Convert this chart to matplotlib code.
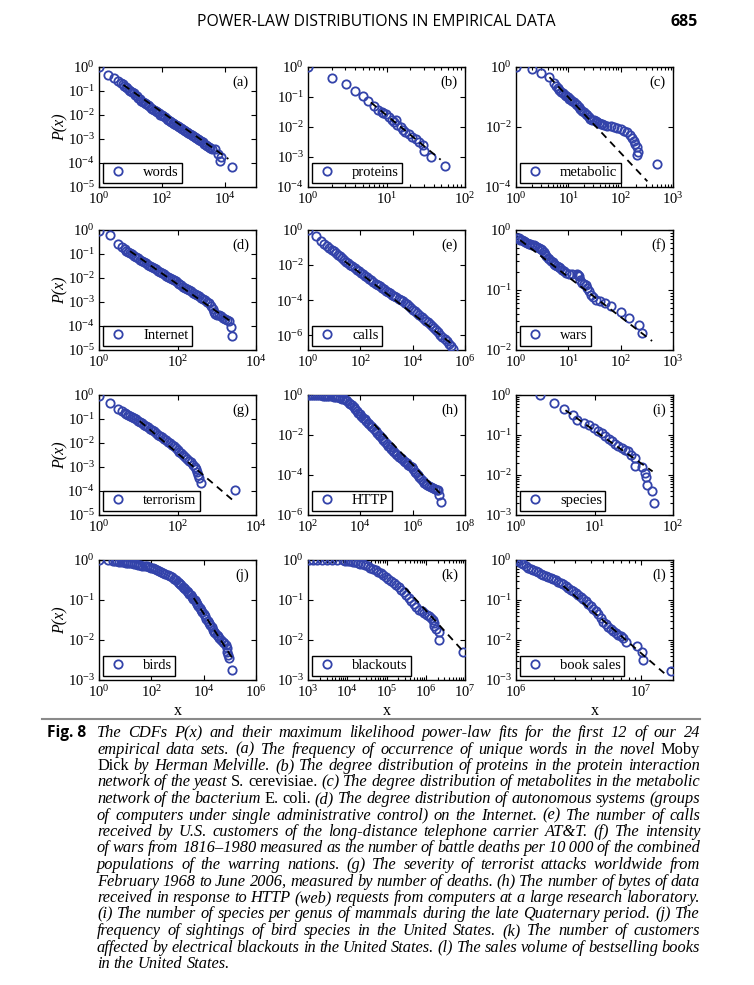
import numpy as np
import matplotlib
matplotlib.use("Agg")
import matplotlib.pyplot as plt
from matplotlib.ticker import FixedLocator, LogLocator, NullFormatter, NullLocator, LogFormatterMathtext
from matplotlib.lines import Line2D

plt.rcParams['font.family'] = ['Liberation Serif', 'DejaVu Serif']
plt.rcParams['mathtext.fontset'] = 'stix'

# Data, stored as (log10 x, log10 P(x)) pairs
words = [(0, 0), (0.30, -0.33), (0.48, -0.47), (0.60, -0.58), (0.70, -0.65),
         (0.75, -0.72), (0.80, -0.78), (0.85, -0.83), (0.90, -0.88), (0.95, -0.94), (1.00, -0.99), (1.05, -1.04),
         (1.10, -1.10), (1.15, -1.16), (1.20, -1.22), (1.25, -1.28), (1.30, -1.34), (1.35, -1.40), (1.40, -1.45),
         (1.45, -1.50), (1.50, -1.55), (1.55, -1.60), (1.60, -1.64), (1.65, -1.69), (1.70, -1.73), (1.75, -1.78),
         (1.80, -1.83), (1.85, -1.88), (1.90, -1.93), (1.95, -1.98), (2.00, -2.02), (2.05, -2.06), (2.10, -2.10),
         (2.15, -2.15), (2.20, -2.19), (2.25, -2.24), (2.30, -2.28), (2.35, -2.33), (2.40, -2.37), (2.45, -2.42),
         (2.50, -2.46), (2.55, -2.51), (2.60, -2.55), (2.65, -2.59), (2.70, -2.63), (2.75, -2.67), (2.80, -2.71),
         (2.85, -2.75), (2.90, -2.79), (2.95, -2.84), (3.00, -2.88), (3.05, -2.93), (3.10, -2.97), (3.15, -3.01),
         (3.20, -3.05), (3.25, -3.10), (3.30, -3.14), (3.35, -3.20), (3.40, -3.25), (3.45, -3.30), (3.50, -3.35),
         (3.55, -3.39), (3.60, -3.42), (3.69, -3.42), (3.80, -3.63), (3.90, -3.76), (3.85, -3.90), (4.23, -4.18)]
words_fit = [(0.78, -0.75), (4.12, -3.83)]

proteins = [(0, 0), (0.30, -0.35), (0.48, -0.58), (0.60, -0.81), (0.70, -0.98), (0.77, -1.12), (0.84, -1.29),
            (0.89, -1.44), (0.94, -1.50), (0.96, -1.53), (0.99, -1.58), (1.03, -1.67), (1.07, -1.75), (1.10, -1.83),
            (1.12, -1.78), (1.14, -1.92), (1.18, -2.01), (1.21, -2.09), (1.24, -2.15), (1.29, -2.24), (1.33, -2.32),
            (1.37, -2.40), (1.41, -2.51), (1.46, -2.61), (1.48, -2.81), (1.57, -3.00), (1.74, -3.31)]
proteins_fit = [(0.80, -1.18), (1.69, -3.09)]

metabolic = [(0, 0), (0.31, -0.06), (0.48, -0.20), (0.63, -0.32), (0.72, -0.52), (0.76, -0.62), (0.80, -0.71),
             (0.83, -0.77), (0.86, -0.82), (0.90, -0.88), (0.93, -0.94), (0.96, -0.98), (0.99, -1.01), (1.02, -1.05),
             (1.04, -1.08), (1.07, -1.12), (1.10, -1.16), (1.14, -1.22), (1.17, -1.27), (1.20, -1.33), (1.23, -1.39),
             (1.27, -1.45), (1.30, -1.50), (1.33, -1.56), (1.36, -1.61), (1.39, -1.67), (1.42, -1.72), (1.46, -1.75),
             (1.49, -1.78), (1.52, -1.81), (1.55, -1.84), (1.59, -1.87), (1.62, -1.89), (1.65, -1.91), (1.68, -1.93),
             (1.74, -1.95), (1.81, -1.98), (1.87, -2.01), (1.93, -2.03), (2.00, -2.06), (2.06, -2.12), (2.13, -2.18),
             (2.18, -2.25), (2.22, -2.35), (2.25, -2.46), (2.28, -2.57), (2.32, -2.68), (2.33, -2.82), (2.32, -2.93),
             (2.69, -3.22)]
metabolic_fit = [(0.64, -0.34), (2.51, -3.81)]

internet = [(0, -0.05), (0.29, -0.21), (0.49, -0.60), (0.58, -0.70), (0.66, -0.81), (0.70, -0.86),
            (0.75, -0.90), (0.80, -0.96), (0.85, -1.01), (0.90, -1.07), (0.95, -1.12), (1.00, -1.18), (1.05, -1.24),
            (1.10, -1.29), (1.15, -1.34), (1.20, -1.39), (1.25, -1.44), (1.30, -1.50), (1.35, -1.54), (1.40, -1.59),
            (1.45, -1.64), (1.50, -1.70), (1.55, -1.74), (1.60, -1.80), (1.65, -1.85), (1.70, -1.90), (1.75, -1.95),
            (1.80, -2.00), (1.85, -2.04), (1.90, -2.09), (1.95, -2.14), (2.00, -2.20), (2.05, -2.26), (2.10, -2.31),
            (2.15, -2.37), (2.20, -2.42), (2.25, -2.47), (2.30, -2.52), (2.35, -2.56), (2.40, -2.61), (2.45, -2.66),
            (2.50, -2.72), (2.55, -2.77), (2.60, -2.82), (2.65, -2.88), (2.70, -2.93), (2.75, -2.99), (2.80, -3.06),
            (2.85, -3.16), (2.90, -3.28), (2.93, -3.40), (2.96, -3.50), (3.00, -3.54), (3.05, -3.56), (3.10, -3.60),
            (3.15, -3.66), (3.20, -3.71), (3.25, -3.75), (3.30, -3.80), (3.36, -4.06), (3.40, -4.40)]
internet_fit = [(0.79, -0.88), (3.36, -3.81)]

calls = [(0, 0), (0.29, -0.35), (0.48, -0.60), (0.61, -0.79),
         (0.74, -0.92), (0.82, -1.02), (0.90, -1.12), (0.98, -1.22), (1.06, -1.32), (1.14, -1.42), (1.22, -1.51),
         (1.30, -1.61), (1.38, -1.71), (1.46, -1.81), (1.54, -1.90), (1.62, -1.99), (1.70, -2.08), (1.78, -2.17),
         (1.86, -2.26), (1.94, -2.35), (2.02, -2.44), (2.10, -2.53), (2.18, -2.62), (2.26, -2.70), (2.34, -2.79),
         (2.42, -2.88), (2.50, -2.97), (2.58, -3.06), (2.66, -3.14), (2.74, -3.21), (2.82, -3.29), (2.90, -3.37),
         (2.98, -3.46), (3.06, -3.54), (3.14, -3.62), (3.22, -3.69), (3.30, -3.77), (3.38, -3.85), (3.46, -3.93),
         (3.54, -4.00), (3.62, -4.08), (3.70, -4.16), (3.78, -4.25), (3.86, -4.33), (3.94, -4.43), (4.02, -4.54),
         (4.10, -4.64), (4.18, -4.75), (4.26, -4.86), (4.34, -4.97), (4.42, -5.07), (4.50, -5.17), (4.58, -5.27),
         (4.66, -5.38), (4.74, -5.50), (4.82, -5.61), (4.90, -5.73), (4.98, -5.85), (5.06, -5.97), (5.14, -6.09),
         (5.22, -6.23), (5.30, -6.36), (5.38, -6.49), (5.46, -6.63), (5.55, -6.79)]
calls_fit = [(1.40, -1.78), (5.60, -6.62)]

wars = [(0.02, -0.13), (0.05, -0.14), (0.08, -0.16), (0.12, -0.17), (0.15, -0.18), (0.18, -0.20), (0.21, -0.21),
        (0.24, -0.23), (0.27, -0.24), (0.30, -0.25), (0.34, -0.25), (0.37, -0.27), (0.40, -0.28), (0.44, -0.30),
        (0.47, -0.32), (0.50, -0.34), (0.53, -0.36), (0.56, -0.40), (0.58, -0.44), (0.61, -0.47), (0.63, -0.49),
        (0.67, -0.52), (0.70, -0.54), (0.72, -0.56), (0.75, -0.58), (0.78, -0.60), (0.82, -0.62), (0.85, -0.64),
        (0.88, -0.66), (0.91, -0.68), (0.96, -0.71), (1.01, -0.73), (1.07, -0.74), (1.16, -0.73), (1.18, -0.75),
        (1.20, -0.77), (1.23, -0.83), (1.26, -0.88), (1.30, -0.90), (1.33, -0.91), (1.36, -0.97), (1.39, -1.02),
        (1.44, -1.08), (1.48, -1.12), (1.52, -1.16), (1.60, -1.18), (1.71, -1.22), (1.81, -1.26), (2.00, -1.36),
        (2.16, -1.47), (2.35, -1.58), (2.41, -1.72)]
wars_fit = [(0.08, -0.17), (2.60, -1.85)]

terrorism = [(0, -0.04), (0.29, -0.35), (0.49, -0.57), (0.58, -0.66), (0.66, -0.74), (0.70, -0.78),
             (0.75, -0.82), (0.80, -0.86), (0.85, -0.91), (0.90, -0.97), (0.95, -1.02), (1.00, -1.08), (1.05, -1.14),
             (1.10, -1.18), (1.15, -1.23), (1.20, -1.28), (1.25, -1.34), (1.30, -1.40), (1.35, -1.46), (1.40, -1.52),
             (1.45, -1.59), (1.50, -1.65), (1.55, -1.71), (1.60, -1.77), (1.65, -1.83), (1.70, -1.89), (1.75, -1.96),
             (1.80, -2.02), (1.85, -2.08), (1.90, -2.14), (1.95, -2.22), (2.00, -2.29), (2.05, -2.36), (2.10, -2.43),
             (2.15, -2.51), (2.20, -2.58), (2.25, -2.65), (2.30, -2.73), (2.35, -2.81), (2.40, -2.90), (2.44, -2.99),
             (2.47, -3.09), (2.50, -3.22), (2.52, -3.34), (2.54, -3.46), (2.59, -3.67), (3.47, -3.95)]
terrorism_fit = [(1.04, -1.09), (3.40, -4.37)]

http = [(2.03, 0), (2.10, 0), (2.18, 0), (2.26, 0), (2.34, -0.01), (2.42, -0.02), (2.50, -0.02), (2.58, -0.03),
        (2.66, -0.04), (2.74, -0.04), (2.82, -0.05), (2.90, -0.06), (2.98, -0.08), (3.06, -0.09), (3.14, -0.12),
        (3.22, -0.15), (3.30, -0.18), (3.38, -0.22), (3.44, -0.27), (3.50, -0.32), (3.56, -0.38), (3.62, -0.45),
        (3.68, -0.52), (3.74, -0.61), (3.80, -0.70), (3.86, -0.80), (3.92, -0.88), (3.98, -0.97), (4.04, -1.05),
        (4.10, -1.14), (4.16, -1.22), (4.22, -1.31), (4.28, -1.39), (4.34, -1.47), (4.40, -1.55), (4.46, -1.62),
        (4.52, -1.70), (4.58, -1.80), (4.64, -1.90), (4.70, -1.98), (4.76, -2.07), (4.82, -2.17), (4.88, -2.27),
        (4.94, -2.36), (5.00, -2.45), (5.06, -2.53), (5.12, -2.61), (5.18, -2.70), (5.24, -2.78), (5.30, -2.86),
        (5.36, -2.94), (5.42, -3.01), (5.48, -3.08), (5.54, -3.14), (5.60, -3.21), (5.66, -3.28), (5.72, -3.35),
        (5.78, -3.42), (5.84, -3.48), (5.90, -3.55), (5.96, -3.62), (6.02, -3.72), (6.08, -3.83), (6.14, -3.91),
        (6.20, -3.99), (6.26, -4.08), (6.32, -4.18), (6.38, -4.28), (6.44, -4.38), (6.50, -4.46), (6.56, -4.51),
        (6.62, -4.56), (6.70, -4.60), (6.78, -4.66), (6.86, -4.71), (6.94, -4.75), (6.97, -4.77), (7.01, -4.99),
        (7.10, -5.33)]
http_fit = [(4.53, -1.47), (7.04, -4.91)]

species = [(0.30, -0.01), (0.49, -0.21), (0.61, -0.36), (0.72, -0.49), (0.78, -0.63), (0.87, -0.70), (0.93, -0.76),
           (0.99, -0.82), (1.04, -0.91), (1.09, -0.96), (1.13, -1.03), (1.18, -1.10), (1.22, -1.16), (1.26, -1.22),
           (1.30, -1.28), (1.35, -1.32), (1.39, -1.38), (1.43, -1.41), (1.47, -1.49), (1.51, -1.58), (1.51, -1.77),
           (1.60, -1.80), (1.64, -1.94), (1.65, -2.05), (1.67, -2.25), (1.73, -2.41), (1.76, -2.71)]
species_fit = [(0.63, -0.38), (1.74, -1.91)]

birds = [(0, 0), (0.35, -0.01), (0.54, -0.03), (0.62, -0.03), (0.70, -0.035), (0.78, -0.04), (0.86, -0.05),
         (0.94, -0.055), (1.02, -0.065), (1.10, -0.07), (1.18, -0.08), (1.26, -0.085), (1.34, -0.095),
         (1.42, -0.105), (1.50, -0.12), (1.58, -0.13), (1.66, -0.14), (1.74, -0.15), (1.82, -0.16), (1.90, -0.175),
         (1.98, -0.19), (2.06, -0.205), (2.14, -0.225), (2.22, -0.245), (2.30, -0.27), (2.38, -0.29),
         (2.46, -0.315), (2.54, -0.34), (2.62, -0.365), (2.70, -0.40), (2.78, -0.43), (2.86, -0.465), (2.94, -0.51),
         (3.00, -0.55), (3.05, -0.58), (3.10, -0.60), (3.15, -0.635), (3.20, -0.665), (3.25, -0.70), (3.30, -0.73),
         (3.35, -0.77), (3.40, -0.80), (3.45, -0.84), (3.50, -0.88), (3.55, -0.93), (3.60, -0.97), (3.65, -1.01),
         (3.70, -1.05), (3.75, -1.10), (3.80, -1.14), (3.85, -1.19), (3.90, -1.25), (3.95, -1.30), (4.00, -1.36),
         (4.05, -1.41), (4.10, -1.47), (4.15, -1.52), (4.20, -1.58), (4.25, -1.63), (4.30, -1.68), (4.35, -1.74),
         (4.40, -1.79), (4.45, -1.83), (4.50, -1.87), (4.55, -1.91), (4.60, -1.95), (4.66, -2.00), (4.72, -2.04),
         (4.78, -2.08), (4.85, -2.12), (4.88, -2.20), (4.91, -2.29), (4.94, -2.37), (4.97, -2.46), (5.10, -2.75)]
birds_fit = [(3.62, -0.95), (5.10, -2.46)]

blackouts = [(3.02, 0), (3.12, 0), (3.23, 0), (3.36, 0), (3.49, 0), (3.62, 0), (3.75, -0.01), (3.88, -0.01),
             (3.95, -0.02), (4.01, -0.03), (4.07, -0.035), (4.14, -0.04), (4.20, -0.055), (4.27, -0.07),
             (4.33, -0.09), (4.40, -0.11), (4.46, -0.13), (4.53, -0.16), (4.59, -0.19), (4.66, -0.22), (4.72, -0.25),
             (4.79, -0.29), (4.85, -0.33), (4.92, -0.38), (4.98, -0.42), (5.05, -0.47), (5.11, -0.52), (5.18, -0.57),
             (5.24, -0.62), (5.31, -0.68), (5.37, -0.74), (5.44, -0.80), (5.50, -0.87), (5.57, -0.95), (5.63, -1.03),
             (5.70, -1.11), (5.76, -1.18), (5.83, -1.24), (5.90, -1.28), (5.96, -1.32), (6.03, -1.37), (6.09, -1.41),
             (6.14, -1.45), (6.18, -1.49), (6.20, -1.58), (6.22, -1.66), (6.26, -1.72), (6.35, -1.80), (6.35, -1.99),
             (6.96, -2.30)]
blackouts_fit = [(5.48, -0.70), (6.96, -2.29)]

books = [(6.01, 0), (6.02, -0.03), (6.04, -0.07), (6.06, -0.11), (6.08, -0.15), (6.10, -0.19), (6.12, -0.22),
         (6.14, -0.25), (6.16, -0.28), (6.18, -0.31), (6.20, -0.34), (6.22, -0.37), (6.24, -0.40), (6.26, -0.43),
         (6.28, -0.46), (6.30, -0.48), (6.32, -0.51), (6.34, -0.54), (6.36, -0.57), (6.38, -0.61), (6.40, -0.65),
         (6.42, -0.70), (6.44, -0.74), (6.46, -0.78), (6.48, -0.82), (6.50, -0.87), (6.52, -0.93), (6.54, -0.98),
         (6.56, -1.03), (6.58, -1.09), (6.60, -1.16), (6.62, -1.22), (6.64, -1.28), (6.66, -1.36), (6.68, -1.45),
         (6.70, -1.54), (6.72, -1.60), (6.74, -1.67), (6.76, -1.72), (6.78, -1.77), (6.80, -1.82), (6.82, -1.87),
         (6.84, -1.91), (6.86, -1.96), (6.88, -2.05), (6.97, -2.16), (7.01, -2.29), (7.02, -2.50), (7.24, -2.77)]
books_fit = [(6.38, -0.65), (7.19, -2.83)]

names = ['words', 'proteins', 'metabolic', 'Internet', 'calls', 'wars',
         'terrorism', 'HTTP', 'species', 'birds', 'blackouts', 'book sales']
letters = ['(a)', '(b)', '(c)', '(d)', '(e)', '(f)', '(g)', '(h)', '(i)', '(j)', '(k)', '(l)']
series = [words, proteins, metabolic, internet, calls, wars, terrorism, http, species, birds, blackouts, books]
fits = [words_fit, proteins_fit, metabolic_fit, internet_fit, calls_fit, wars_fit,
        terrorism_fit, http_fit, species_fit, birds_fit, blackouts_fit, books_fit]

# axis ranges / ticks, as decade exponents
xlims = [(0, 5), (0, 2), (0, 3), (0, 4), (0, 6), (0, 3), (0, 4), (2, 8), (0, 2), (0, 6), (3, 7), (6, 7.26)]
ylims = [(-5, 0), (-4, 0), (-4, 0), (-5, 0), (-6.85, 0), (-2, 0), (-5, 0), (-6, 0), (-3, 0), (-3, 0), (-3, 0), (-3, 0)]
xticks = [[0, 2, 4], [0, 1, 2], [0, 1, 2, 3], [0, 2, 4], [0, 2, 4, 6], [0, 1, 2, 3], [0, 2, 4], [2, 4, 6, 8],
          [0, 1, 2], [0, 2, 4, 6], [3, 4, 5, 6, 7], [6, 7]]
yticks = [[0, -1, -2, -3, -4, -5], [0, -1, -2, -3, -4], [0, -2, -4], [0, -1, -2, -3, -4, -5], [0, -2, -4, -6],
          [0, -1, -2], [0, -1, -2, -3, -4, -5], [0, -2, -4, -6], [0, -1, -2, -3], [0, -1, -2, -3],
          [0, -1, -2, -3], [0, -1, -2, -3]]
x_minor = [False, True, True, False, False, False, False, False, False, False, True, True]
y_minor = [False, False, False, False, False, True, False, False, True, False, False, True]

caption_lines = [
    "The CDFs P(x) and their maximum likelihood power-law fits for the first 12 of our 24",
    "empirical data sets. (a) The frequency of occurrence of unique words in the novel Moby",
    "Dick by Herman Melville. (b) The degree distribution of proteins in the protein interaction",
    "network of the yeast S. cerevisiae. (c) The degree distribution of metabolites in the metabolic",
    "network of the bacterium E. coli. (d) The degree distribution of autonomous systems (groups",
    "of computers under single administrative control) on the Internet. (e) The number of calls",
    "received by U.S. customers of the long-distance telephone carrier AT&T. (f) The intensity",
    "of wars from 1816\u20131980 measured as the number of battle deaths per 10~000 of the combined",
    "populations of the warring nations. (g) The severity of terrorist attacks worldwide from",
    "February 1968 to June 2006, measured by number of deaths. (h) The number of bytes of data",
    "received in response to HTTP (web) requests from computers at a large research laboratory.",
    "(i) The number of species per genus of mammals during the late Quaternary period. (j) The",
    "frequency of sightings of bird species in the United States. (k) The number of customers",
    "affected by electrical blackouts in the United States. (l) The sales volume of bestselling books",
    "in the United States.",
]
roman_words = {'Moby', 'Dick', 'S.', 'cerevisiae.', 'E.', 'coli.'}

W, H = 754, 985
fig = plt.figure(figsize=(W / 100, H / 100), dpi=100)

col_left = [99, 308, 516]
row_top = [67, 230, 395, 560]
ax_w, ax_h = 157, 120
blue = '#3343aa'

for k in range(12):
    r, c = divmod(k, 3)
    ax = fig.add_axes([col_left[c] / W, 1 - (row_top[r] + ax_h) / H, ax_w / W, ax_h / H])
    pts = np.array(series[k])
    fit = np.array(fits[k])
    ax.plot(10 ** pts[:, 0], 10 ** pts[:, 1], 'o', mfc='none', mec=blue, ms=6.0, mew=1.3,
            label=names[k], zorder=3)
    ax.plot(10 ** fit[:, 0], 10 ** fit[:, 1], '--', color='black', lw=1.3, dashes=(4, 3), zorder=4)
    ax.set_xscale('log')
    ax.set_yscale('log')
    ax.set_xlim(10 ** xlims[k][0], 10 ** xlims[k][1])
    ax.set_ylim(10 ** ylims[k][0], 10 ** ylims[k][1])
    ax.xaxis.set_major_locator(FixedLocator([10.0 ** e for e in xticks[k]]))
    ax.yaxis.set_major_locator(FixedLocator([10.0 ** e for e in yticks[k]]))
    ax.xaxis.set_major_formatter(LogFormatterMathtext())
    ax.yaxis.set_major_formatter(LogFormatterMathtext())
    if x_minor[k]:
        ax.xaxis.set_minor_locator(LogLocator(base=10, subs=np.arange(2, 10), numticks=20))
    else:
        ax.xaxis.set_minor_locator(NullLocator())
    if y_minor[k]:
        ax.yaxis.set_minor_locator(LogLocator(base=10, subs=np.arange(2, 10), numticks=20))
    else:
        ax.yaxis.set_minor_locator(NullLocator())
    ax.xaxis.set_minor_formatter(NullFormatter())
    ax.yaxis.set_minor_formatter(NullFormatter())
    ax.tick_params(which='both', direction='in', top=True, right=True, labelsize=10.5, width=0.8, pad=3)
    ax.tick_params(which='major', length=3.5)
    ax.tick_params(which='minor', length=2)
    for s in ax.spines.values():
        s.set_linewidth(1.0)
    ax.text(0.955, 0.875, letters[k], transform=ax.transAxes, ha='right', va='center', fontsize=10.5)
    leg = ax.legend(loc='lower left', fontsize=10.5, frameon=True, fancybox=False, framealpha=1,
                    edgecolor='black', borderaxespad=0.3, borderpad=0.22, handlelength=1.6,
                    handletextpad=0.9, numpoints=1)
    leg.get_frame().set_linewidth(1.0)
    if c == 0:
        fig.text(60 / W, 1 - (row_top[r] + ax_h / 2) / H, 'P(x)', rotation=90, style='italic',
                 fontsize=11.5, ha='center', va='center')
    if r == 3:
        fig.text((col_left[c] + ax_w / 2) / W, 1 - 711 / H, 'x', fontsize=11.5, ha='center', va='center')

# page header
fig.text(376 / W, 1 - 22 / H, 'POWER-LAW DISTRIBUTIONS IN EMPIRICAL DATA', ha='center', va='center',
         family='Open Sans', fontsize=11.3)
fig.text(684 / W, 1 - 22 / H, '685', ha='center', va='center', family='Open Sans', fontsize=11.5,
         weight='bold')

# rule above caption
fig.add_artist(Line2D([42 / W, 700 / W], [1 - 719 / H, 1 - 719 / H], color='#8a8a8a', lw=1.5))

# caption, justified word by word
fig.text(47 / W, 1 - 737 / H, 'Fig. 8', family='Open Sans', weight='bold', fontsize=11.2, va='baseline')
renderer = fig.canvas.get_renderer()
cap_left, cap_right = 97, 700
for i, line in enumerate(caption_lines):
    y = 1 - (737 + i * 16.5) / H
    arts = []
    for tok in line.split(' '):
        st = 'normal' if tok in roman_words else 'italic'
        arts.append(fig.text(0, y, tok.replace('~', '\u2009'), fontsize=11.8, style=st, va='baseline'))
    ws = [a.get_window_extent(renderer).width for a in arts]
    if i < len(caption_lines) - 1:
        gap = (cap_right - cap_left - sum(ws)) / (len(ws) - 1)
    else:
        gap = 4.0
    x = cap_left
    for a, w in zip(arts, ws):
        a.set_x(x / W)
        x += w + gap

fig.savefig('out.png', dpi=100)
